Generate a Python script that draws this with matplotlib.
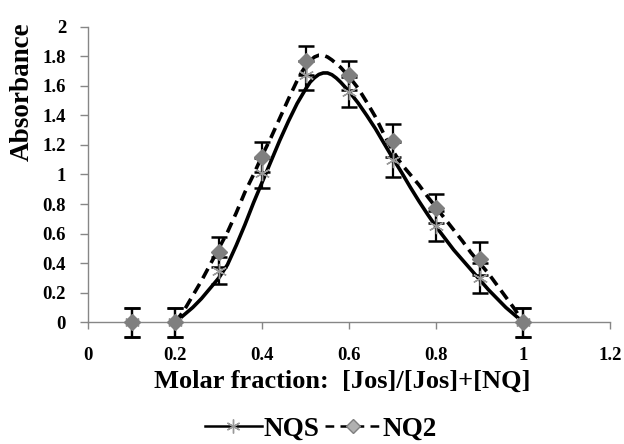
import matplotlib
matplotlib.use('Agg')
import matplotlib.pyplot as plt
from matplotlib.lines import Line2D

# ---- data ----
x_pts = [0.1, 0.2, 0.3, 0.4, 0.5, 0.6, 0.7, 0.8, 0.9, 1.0]
nqs = [0.0, 0.0, 0.35, 1.01, 1.67, 1.56, 1.10, 0.65, 0.30, 0.0]
nqs_err = [0.1, 0.1, 0.09, 0.1, 0.1, 0.1, 0.12, 0.1, 0.1, 0.1]
nq2 = [0.0, 0.0, 0.475, 1.12, 1.77, 1.67, 1.23, 0.77, 0.43, 0.0]
nq2_err = [0.1, 0.1, 0.1, 0.1, 0.1, 0.1, 0.11, 0.1, 0.11, 0.1]

# smoothed curves
nqs_curve_x = [0.20, 0.22, 0.24, 0.26, 0.28, 0.30, 0.32, 0.34, 0.36, 0.38, 0.40,
               0.42, 0.44, 0.46, 0.48, 0.50, 0.51, 0.52, 0.53, 0.54, 0.55, 0.56,
               0.57, 0.58, 0.60, 0.62, 0.64, 0.66, 0.68, 0.70, 0.72, 0.74, 0.76,
               0.78, 0.80, 0.84, 0.88, 0.92, 0.96, 1.00]
nqs_curve_y = [0.00, 0.05, 0.10, 0.16, 0.23, 0.30, 0.39, 0.52, 0.66, 0.81, 0.95,
               1.09, 1.23, 1.36, 1.48, 1.58, 1.625, 1.655, 1.677, 1.687, 1.687, 1.675,
               1.653, 1.625, 1.56, 1.485, 1.40, 1.31, 1.21, 1.11, 1.015, 0.915, 0.82,
               0.73, 0.645, 0.49, 0.355, 0.22, 0.10, 0.00]
nq2_curve_x = [0.20, 0.22, 0.24, 0.26, 0.28, 0.30, 0.32, 0.34, 0.36, 0.38, 0.40,
               0.42, 0.44, 0.46, 0.48, 0.49, 0.50, 0.51, 0.52, 0.53, 0.54, 0.55,
               0.56, 0.58, 0.60, 0.62, 0.64, 0.66, 0.68, 0.70, 0.72, 0.74, 0.76,
               0.78, 0.80, 0.82, 0.84, 0.86, 0.88, 0.90, 0.92, 0.94, 0.96, 0.98,
               1.00]
nq2_curve_y = [0.00, 0.08, 0.18, 0.28, 0.39, 0.50, 0.61, 0.74, 0.88, 1.00, 1.13,
               1.25, 1.38, 1.51, 1.635, 1.69, 1.735, 1.77, 1.795, 1.807, 1.807, 1.795,
               1.775, 1.725, 1.66, 1.585, 1.49, 1.39, 1.27, 1.16, 1.07, 1.00, 0.93,
               0.85, 0.775, 0.70, 0.625, 0.55, 0.47, 0.40, 0.33, 0.25, 0.17, 0.09,
               0.00]

x_ticks = [0, 0.2, 0.4, 0.6, 0.8, 1.0, 1.2]
x_ticklabels = ['0', '0.2', '0.4', '0.6', '0.8', '1', '1.2']
y_ticks = [0, 0.2, 0.4, 0.6, 0.8, 1.0, 1.2, 1.4, 1.6, 1.8, 2.0]
y_ticklabels = ['0', '0.2', '0.4', '0.6', '0.8', '1', '1.2', '1.4', '1.6', '1.8', '2']
series_labels = ['NQS', 'NQ2']

plt.rcParams['font.family'] = ['Liberation Serif', 'DejaVu Serif']
plt.rcParams['font.weight'] = 'bold'

W, H = 624, 444
fig = plt.figure(figsize=(W / 100, H / 100), dpi=100)
ax = fig.add_axes([88.3 / W, 1 - 322.3 / H, (610.3 - 88.3) / W, (322.3 - 26.7) / H])

axis_gray = '#868686'
star_gray = '#9a9a9a'
dia_gray = '#7f7f7f'

ax.plot(nqs_curve_x, nqs_curve_y, color='black', lw=2.6, solid_joinstyle='round',
        solid_capstyle='round', zorder=3)
ax.plot(nq2_curve_x, nq2_curve_y, color='black', lw=2.6, linestyle=(0, (3.0, 1.8)),
        dash_joinstyle='round', zorder=3)

ax.errorbar(x_pts, nqs, yerr=nqs_err, fmt='none', ecolor='black', elinewidth=1.6,
            capsize=5.5, capthick=1.8, clip_on=False, zorder=4)
ax.errorbar(x_pts, nq2, yerr=nq2_err, fmt='none', ecolor='black', elinewidth=1.6,
            capsize=5.5, capthick=1.8, clip_on=False, zorder=4)
ax.plot(x_pts, nqs, linestyle='none', marker=(6, 2, 0), markersize=11, mew=1.0,
        color=star_gray, clip_on=False, zorder=5)
ax.plot(x_pts, nq2, linestyle='none', marker='D', markersize=8, mfc=dia_gray,
        mec=dia_gray, clip_on=False, zorder=5)

ax.set_xlim(0, 1.2)
ax.set_ylim(0, 2)
ax.set_xticks(x_ticks)
ax.set_xticklabels(x_ticklabels)
ax.set_yticks(y_ticks)
ax.set_yticklabels(y_ticklabels)
for s in ['top', 'right']:
    ax.spines[s].set_visible(False)
for s in ['left', 'bottom']:
    ax.spines[s].set_color(axis_gray)
    ax.spines[s].set_linewidth(1.0)
ax.tick_params(axis='x', direction='out', length=5, width=1, color=axis_gray,
               pad=13, labelsize=13.5)
ax.tick_params(axis='y', direction='out', length=6, width=1, color=axis_gray,
               pad=10, labelsize=13.5)
for lab in ax.get_xticklabels() + ax.get_yticklabels():
    lab.set_fontweight('bold')

fig.text(22 / W, 1 - 92 / H, 'Absorbance', rotation=90, ha='center', va='center',
         fontsize=19.5, fontweight='bold')
fig.text(342.5 / W, 1 - 381 / H, 'Molar fraction:  [Jos]/[Jos]+[NQ]', ha='center',
         va='center', fontsize=19, fontweight='bold')

h1 = Line2D([], [], color='black', lw=1.8, marker=(6, 2, 0), markersize=10,
            mec=star_gray, mfc=star_gray, mew=1.0)
h2 = Line2D([], [], color='black', lw=1.8, linestyle=(0, (3.5, 2.5)), marker='D',
            markersize=7, mec=dia_gray, mfc='#b0b0b0', mew=1.0)
fig.legend([h1, h2], series_labels, loc='center', bbox_to_anchor=(321 / W, 1 - 429 / H),
           ncol=2, frameon=False, handlelength=2.1, handletextpad=0.05,
           columnspacing=0.2, prop={'family': 'Liberation Serif', 'weight': 'bold', 'size': 19.5})

fig.savefig('out.png', dpi=100)
